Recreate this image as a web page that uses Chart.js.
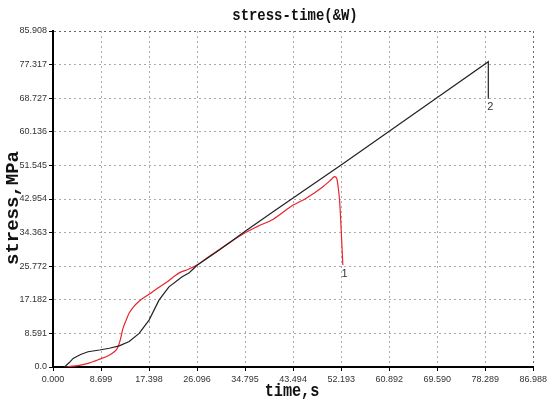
<!DOCTYPE html>
<html>
<head>
<meta charset="utf-8">
<script src="https://cdn.jsdelivr.net/npm/chart.js@4/dist/chart.umd.min.js"></script>
<style>
  html, body { margin: 0; padding: 0; background: #fff; }
  #wrap { width: 550px; height: 416px; }
</style>
</head>
<body>
<div id="wrap"><canvas id="stressChart" width="550" height="416"></canvas></div>
<script>
// ========== DATA ==========
const xTickLabels = ['0.000', '8.699', '17.398', '26.096', '34.795', '43.494', '52.193', '60.892', '69.590', '78.289', '86.988'];
const yTickLabels = ['0.0', '8.591', '17.182', '25.772', '34.363', '42.954', '51.545', '60.136', '68.727', '77.317', '85.908'];

// specimen 1 (red)
const redTime = [2.2, 3.5, 5.0, 6.5, 8.45, 10.0, 11.1, 11.7, 12.2, 12.6, 13.2, 13.8, 14.6, 15.5, 17.4, 19.0, 20.5, 22.8, 24.5, 26.1, 28.0, 30.0, 32.0, 34.8, 37.0, 39.9, 43.5, 45.8, 48.9, 50.3, 51.0, 51.4, 51.7, 51.9, 52.1, 52.3, 52.5];
const redStress = [0, 0.2, 0.5, 1.0, 2.0, 2.9, 3.9, 4.9, 7.0, 9.5, 11.8, 13.8, 15.4, 16.7, 18.6, 20.2, 21.6, 24.0, 25.0, 26.1, 28.0, 29.9, 31.8, 34.3, 35.9, 37.8, 41.4, 43.1, 46.1, 47.8, 48.7, 48.2, 45.5, 42.7, 38.0, 32.0, 26.1];

// specimen 2 (black)
const blackTime = [2.1, 3.0, 3.65, 5.0, 6.35, 8.45, 10.2, 12.0, 13.8, 15.6, 17.4, 19.2, 21.0, 23.4, 24.6, 25.2, 26.1, 30.0, 35.0, 40.0, 45.0, 52.19, 60.0, 70.0, 78.85, 78.85];
const blackStress = [0, 1.2, 2.2, 3.2, 3.9, 4.35, 4.8, 5.4, 6.5, 8.6, 12.0, 17.1, 20.5, 23.1, 24.0, 24.8, 26.0, 29.8, 34.9, 39.8, 44.7, 51.65, 59.4, 69.3, 78.06, 68.6];

// curve labels
const curveLabels = ['1', '2'];
const labelTime = [52.8, 79.2];
const labelStress = [23.8, 66.6];

function toPoints(xs, ys) {
  return xs.map((x, i) => ({ x: x, y: ys[i] }));
}

// ========== TITLES & CURVE LABELS ==========
const titlesPlugin = {
  id: 'titles',
  afterDraw(chart) {
    const { ctx, scales } = chart;
    ctx.save();
    ctx.fillStyle = '#111';
    ctx.textAlign = 'center';
    ctx.textBaseline = 'middle';

    // main title (condensed mono)
    ctx.save();
    ctx.translate(295, 16);
    ctx.scale(0.82, 1);
    ctx.font = 'bold 17px "Liberation Mono"';
    ctx.fillText('stress-time(&W)', 0, 0);
    ctx.restore();

    // x axis title
    ctx.save();
    ctx.translate(292, 391);
    ctx.scale(0.8, 1);
    ctx.font = 'bold 19px "Liberation Mono"';
    ctx.fillText('time,s', 0, 0);
    ctx.restore();

    // y axis title
    ctx.save();
    ctx.translate(13, 208);
    ctx.rotate(-Math.PI / 2);
    ctx.font = 'bold 19px "Liberation Mono"';
    ctx.fillText('stress,MPa', 0, 0);
    ctx.restore();

    // curve numbers
    ctx.font = '11px "Liberation Sans"';
    ctx.fillStyle = '#333';
    curveLabels.forEach((t, i) => {
      ctx.fillText(t, scales.x.getPixelForValue(labelTime[i]), scales.y.getPixelForValue(labelStress[i]));
    });
    ctx.restore();
  }
};

function gridColor(c) {
  return c.index === 10 ? '#666' : '#aaa';
}

const tickFont = { family: 'Liberation Sans', size: 9 };

function initStressChart() {
  const el = document.getElementById('stressChart');
  new Chart(el.getContext('2d'), {
    type: 'scatter',
    data: {
      datasets: [
        {
          label: '2',
          data: toPoints(blackTime, blackStress),
          showLine: true,
          borderColor: '#222',
          borderWidth: 1.2,
          pointRadius: 0,
          tension: 0
        },
        {
          label: '1',
          data: toPoints(redTime, redStress),
          showLine: true,
          borderColor: '#e8242c',
          borderWidth: 1.2,
          pointRadius: 0,
          cubicInterpolationMode: 'monotone',
          tension: 0.4
        }
      ]
    },
    options: {
      responsive: false,
      animation: false,
      layout: { padding: { top: 31, right: 13, left: 0, bottom: 0 } },
      plugins: {
        legend: { display: false },
        tooltip: { enabled: false }
      },
      scales: {
        x: {
          type: 'linear',
          min: 0,
          max: 86.988,
          afterBuildTicks: s => { s.ticks = xTickLabels.map(v => ({ value: parseFloat(v) })); },
          afterFit: s => { s.height = 49; },
          grid: { color: gridColor, lineWidth: 1, drawTicks: true, tickLength: 4, tickColor: '#000', tickBorderDash: [] },
          border: { display: true, color: '#000', width: 2, dash: [2, 3] },
          ticks: {
            color: '#333',
            font: tickFont,
            padding: 3,
            maxRotation: 0,
            autoSkip: false,
            callback: (v, i) => xTickLabels[i]
          }
        },
        y: {
          type: 'linear',
          min: 0,
          max: 85.908,
          afterBuildTicks: s => { s.ticks = yTickLabels.map(v => ({ value: parseFloat(v) })); },
          afterFit: s => { s.width = 53; },
          grid: { color: gridColor, lineWidth: 1, drawTicks: true, tickLength: 4, tickColor: '#000', tickBorderDash: [] },
          border: { display: true, color: '#000', width: 2, dash: [2, 3] },
          ticks: {
            color: '#333',
            font: tickFont,
            padding: 2,
            autoSkip: false,
            callback: (v, i) => yTickLabels[i]
          }
        }
      }
    },
    plugins: [titlesPlugin]
  });
}

document.addEventListener('DOMContentLoaded', initStressChart);
</script>
</body>
</html>
